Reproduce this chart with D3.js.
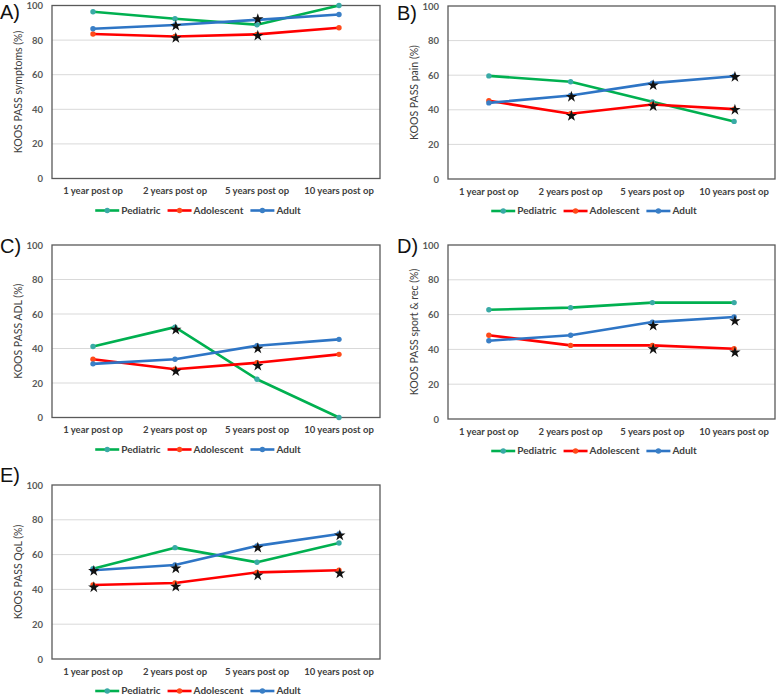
<!DOCTYPE html>
<html>
<head>
<meta charset="utf-8">
<script src="https://cdn.jsdelivr.net/npm/d3@7"></script>
<style>
  body { margin: 0; background: #fff; }
  svg { display: block; font-family: Lato, "Open Sans", sans-serif; }
</style>
</head>
<body>
<svg width="777" height="696"></svg>
<script>
const categories = ["1 year post op", "2 years post op", "5 years post op", "10 years post op"]
const groups = ["Pediatric", "Adolescent", "Adult"]
const lineColors = ["#00b050", "#ff0000", "#2e75c5"]
const markerColors = ["#3aaaa6", "#ff4a1a", "#3a7fc6"]
const yTicks = [0, 20, 40, 60, 80, 100]

// one row per group: Pediatric, Adolescent, Adult
const symptoms = [
  [96.4, 92.3, 88.9, 100],
  [83.5, 82.1, 83.3, 87.1],
  [86.6, 88.7, 91.7, 94.8]
]
const pain = [
  [59.6, 56.2, 44.6, 33.3],
  [45.2, 37.7, 43.1, 40.4],
  [44.0, 48.3, 55.4, 59.4]
]
const adl = [
  [41.2, 52.4, 22.2, 0],
  [33.8, 28.0, 31.7, 36.6],
  [31.1, 33.8, 41.6, 45.3]
]
const sport = [
  [62.8, 64.0, 66.9, 66.9],
  [48.1, 42.3, 42.3, 40.4],
  [45.0, 48.1, 55.7, 58.6]
]
const qol = [
  [51.9, 64.0, 55.6, 66.7],
  [42.5, 43.7, 49.8, 51.0],
  [51.0, 54.0, 65.0, 71.8]
]

// asterisks: [category index, value]
const symptomsStars = [[1, 88.3], [1, 81.2], [2, 92.1], [2, 82.5]]
const painStars = [[1, 47.5], [1, 36.5], [2, 54.2], [2, 42.1], [3, 59.0], [3, 40.0]]
const adlStars = [[1, 50.9], [1, 26.8], [2, 40.0], [2, 30.0]]
const sportStars = [[2, 53.6], [2, 40.2], [3, 56.3], [3, 38.3]]
const qolStars = [[0, 50.6], [0, 41.2], [1, 52.1], [1, 41.6], [2, 64.0], [2, 48.1], [3, 71.0], [3, 49.2]]

const panels = [
  { label: "A)", title: "KOOS PASS symptoms (%)", series: symptoms, stars: symptomsStars, left: 52, top: 5.5, bottom: 178.5, right: 380, labelX: 0, labelY: 19 },
  { label: "B)", title: "KOOS PASS pain (%)", series: pain, stars: painStars, left: 448, top: 6, bottom: 179, right: 775, labelX: 397, labelY: 20 },
  { label: "C)", title: "KOOS PASS ADL (%)", series: adl, stars: adlStars, left: 52, top: 245, bottom: 417.5, right: 380, labelX: 0, labelY: 253 },
  { label: "D)", title: "KOOS PASS sport & rec (%)", series: sport, stars: sportStars, left: 448, top: 245, bottom: 419, right: 775, labelX: 397, labelY: 253 },
  { label: "E)", title: "KOOS PASS QoL (%)", series: qol, stars: qolStars, left: 52, top: 485, bottom: 659, right: 380, labelX: 0, labelY: 482 }
]

const svg = d3.select("svg")

const drawPanel = (p) => {
  const g = svg.append("g")
  const x = d3.scaleBand().domain(categories).range([p.left, p.right])
  const y = d3.scaleLinear().domain([0, 100]).range([p.bottom, p.top])
  const cx = (i) => x(categories[i]) + x.bandwidth() / 2

  // gridlines
  g.selectAll(".grid")
    .data(yTicks.slice(1, -1))
    .enter().append("line")
    .attr("x1", p.left).attr("x2", p.right)
    .attr("y1", (d) => y(d)).attr("y2", (d) => y(d))
    .attr("stroke", "#d9d9d9").attr("stroke-width", 1)

  // frame
  g.append("rect")
    .attr("x", p.left).attr("y", p.top)
    .attr("width", p.right - p.left).attr("height", p.bottom - p.top)
    .attr("fill", "none").attr("stroke", "#595959").attr("stroke-width", 1.3)

  // y axis labels
  const yAxis = g.append("g")
    .attr("transform", `translate(${p.left},0)`)
    .call(d3.axisLeft(y).tickValues(yTicks).tickSize(0).tickPadding(9))
  yAxis.select(".domain").remove()
  yAxis.selectAll("text")
    .attr("fill", "#595959").attr("font-size", 9.5).attr("font-weight", "bold")
    .attr("font-family", "Lato, sans-serif")

  // x axis labels
  const xAxis = g.append("g")
    .attr("transform", `translate(0,${p.bottom})`)
    .call(d3.axisBottom(x).tickSize(0).tickPadding(9))
  xAxis.select(".domain").remove()
  xAxis.selectAll("text")
    .attr("fill", "#404040").attr("font-size", 9.5).attr("font-weight", "bold")
    .attr("font-family", "Lato, sans-serif")

  // y title
  g.append("text")
    .attr("transform", `translate(${p.left - 30},${(p.top + p.bottom) / 2}) rotate(-90)`)
    .attr("text-anchor", "middle")
    .attr("font-size", 10.5).attr("fill", "#404040")
    .text(p.title)

  // panel label
  g.append("text")
    .attr("x", p.labelX).attr("y", p.labelY)
    .attr("font-size", 20).attr("font-family", "'Liberation Sans', Arial, sans-serif")
    .attr("fill", "#111")
    .text(p.label)

  const line = d3.line().x((d, i) => cx(i)).y((d) => y(d))

  p.series.forEach((values, gi) => {
    g.append("path")
      .datum(values)
      .attr("d", line)
      .attr("fill", "none")
      .attr("stroke", lineColors[gi])
      .attr("stroke-width", 2.6)
      .attr("stroke-linejoin", "round")
    g.selectAll(null)
      .data(values)
      .enter().append("circle")
      .attr("cx", (d, i) => cx(i))
      .attr("cy", (d) => y(d))
      .attr("r", 2.7)
      .attr("fill", markerColors[gi])
  })

  // asterisks
  g.selectAll(".star")
    .data(p.stars)
    .enter().append("path")
    .attr("d", d3.symbol(d3.symbolStar, 40))
    .attr("transform", (d) => `translate(${cx(d[0]) + 0.8},${y(d[1])})`)
    .attr("fill", "#111")

  // legend, laid out from measured text and centred under the chart
  const ly = p.bottom + 32
  const legend = g.append("g")
  let lx = 0
  groups.forEach((name, gi) => {
    legend.append("line")
      .attr("x1", lx).attr("x2", lx + 24)
      .attr("y1", ly).attr("y2", ly)
      .attr("stroke", lineColors[gi]).attr("stroke-width", 2.6)
    legend.append("circle")
      .attr("cx", lx + 12).attr("cy", ly).attr("r", 2.7)
      .attr("fill", markerColors[gi])
    const t = legend.append("text")
      .attr("x", lx + 26).attr("y", ly)
      .attr("dy", "0.33em")
      .attr("font-size", 10).attr("font-weight", "bold")
      .attr("fill", "#404040")
      .text(name)
    lx += 26 + t.node().getComputedTextLength() + 7
  })
  const legendWidth = lx - 7
  const center = p.left + 146
  legend.attr("transform", `translate(${center - legendWidth / 2},0)`)
}

panels.forEach(drawPanel)
</script>
</body>
</html>
